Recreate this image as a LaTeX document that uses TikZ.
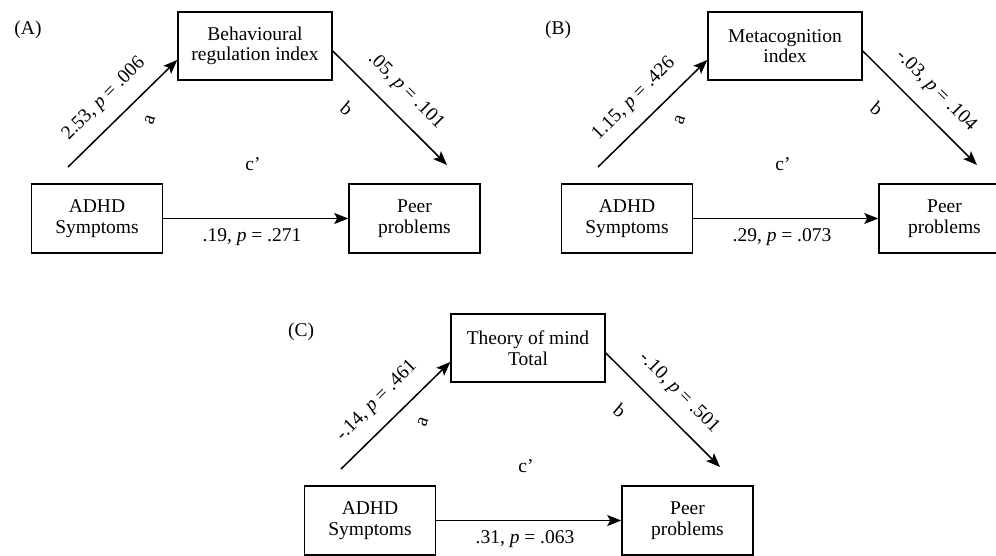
\documentclass[tikz,border=0pt]{standalone}
\usepackage{fontspec}
\setmainfont{Liberation Serif}
\usetikzlibrary{arrows.meta}
\tikzset{
  fnt/.style={font=\fontsize{19.5}{20.5}\selectfont},
  box/.style={draw, line width=1.6pt, fnt, minimum width=131pt, minimum height=69pt, inner sep=0pt, align=center},
  medbox/.style={box, minimum width=154pt, minimum height=68pt},
  lbl/.style={fnt, inner sep=0pt},
  arr/.style={line width=1.5pt, -{Stealth[length=14pt,width=11pt,inset=3pt]}},
}
\newcommand\medpanel[7]{%
  \begin{scope}[shift={#1}]
    \node[lbl] (#2lab) at (28,30) {(#3)};
    \node[medbox] (#2m) at (255,46) {#4};
    \node[box] (#2x) at (97,218.5) {ADHD\\Symptoms};
    \node[box] (#2y) at (414.5,218.5) {Peer\\problems};
    \coordinate (#2as) at (68,167);
    \coordinate (#2be) at (447,165);
    \draw[arr] (#2as) -- ([yshift=-14pt]#2m.west);
    \draw[arr] ([yshift=-5pt]#2m.east) -- (#2be);
    \draw[arr] (#2x.east) -- (#2y.west);
    \node[lbl, rotate=45] (#2al) at (104,99) {#5};
    \node[lbl, rotate=70] (#2a) at (150,120) {a};
    \node[lbl, rotate=-40] (#2b) at (347,109) {b};
    \node[lbl, rotate=-45] (#2bl) at (406,91) {#6};
    \node[lbl] (#2c) at (253,164) {c’};
    \node[lbl] (#2cl) at (252,237) {#7};
  \end{scope}}
\begin{document}
\begin{tikzpicture}[x=1pt, y=-1pt]
  \useasboundingbox (0,0) rectangle (996,555);
  \medpanel{(0,0)}{A}{A}{Behavioural\\regulation index}{2.53, \textit{p} = .006}{.05, \textit{p} = .101}{.19, \textit{p} = .271}
  \medpanel{(530,0)}{B}{B}{Metacognition\\index}{1.15, \textit{p} = .426}{-.03, \textit{p} = .104}{.29, \textit{p} = .073}
  \medpanel{(273,302)}{C}{C}{Theory of mind\\Total}{-.14, \textit{p} = .461}{-.10, \textit{p} = .501}{.31, \textit{p} = .063}
\end{tikzpicture}
\end{document}
